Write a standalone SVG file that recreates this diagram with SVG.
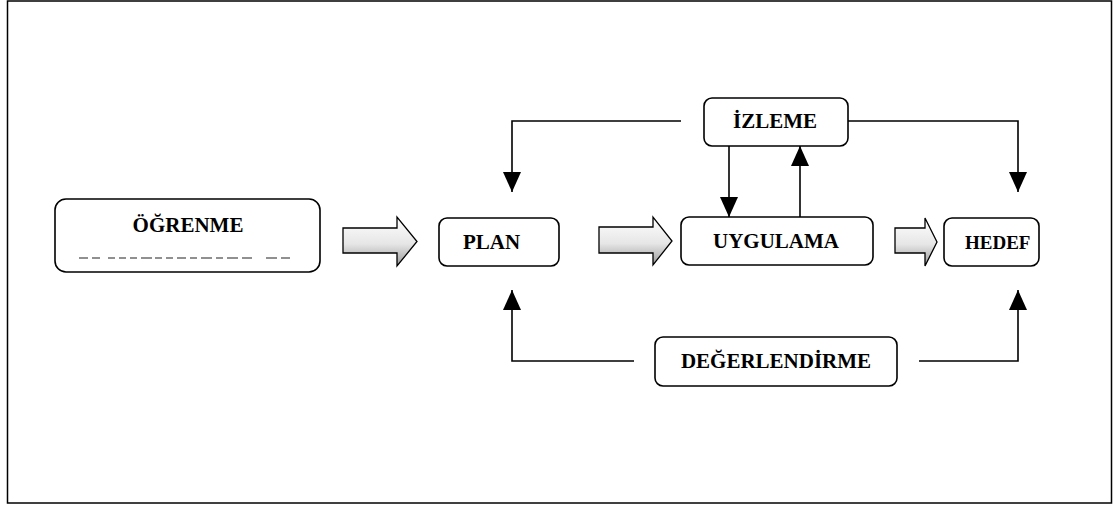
<svg xmlns="http://www.w3.org/2000/svg" width="1114" height="506" viewBox="0 0 1114 506">
<style>
.box{fill:#fff;stroke:#000;stroke-width:1.6}
.lbl{font-family:"Liberation Serif","Times New Roman",serif;font-weight:bold;font-size:21px;fill:#000}
.conn{fill:none;stroke:#000;stroke-width:1.6}
.blk{fill:url(#g);stroke:#000;stroke-width:1.3}
</style>
<defs>
<linearGradient id="g" x1="0" y1="0" x2="0" y2="1">
<stop offset="0" stop-color="#ffffff"/>
<stop offset="0.55" stop-color="#e6e6e6"/>
<stop offset="1" stop-color="#9a9a9a"/>
</linearGradient>
<marker id="ah" markerUnits="userSpaceOnUse" markerWidth="20" markerHeight="18" refX="20" refY="9" orient="auto">
<path d="M0,0 L20,9 L0,18 z" fill="#000"/>
</marker>
</defs>
<rect x="7.5" y="1" width="1104" height="502" fill="#fff" stroke="#000" stroke-width="1.5"/>

<g id="connectors">
<path class="conn" d="M681,121 H512 V192" marker-end="url(#ah)"/>
<path class="conn" d="M848,121 H1018 V192" marker-end="url(#ah)"/>
<path class="conn" d="M729,146 V217" marker-end="url(#ah)"/>
<path class="conn" d="M800,217 V146" marker-end="url(#ah)"/>
<path class="conn" d="M634,361 H512 V290" marker-end="url(#ah)"/>
<path class="conn" d="M919,361 H1018 V290" marker-end="url(#ah)"/>
<polygon class="blk" points="343,228 397,228 397,217 417,241.5 397,266 397,253 343,253"/>
<polygon class="blk" points="599,227 653,227 653,217 672,241 653,265 653,253 599,253"/>
<polygon class="blk" points="895,228 925,228 925,218 937,242 925,266 925,253 895,253"/>
</g>

<g id="ogrenme">
<rect class="box" x="55" y="199" width="265" height="73" rx="11"/>
<text class="lbl" x="188" y="232" text-anchor="middle">ÖĞRENME</text>
<path d="M79,258H88M92,258H100M108,258H115M119,258H126M130,258H137M141,258H152M155,258H162M166,258H173M177,258H186M190,258H197M201,258H212M216,258H223M227,258H238M242,258H252M266,258H277M281,258H290" stroke="#222" stroke-width="1.2"/>
</g>
<g id="plan">
<rect class="box" x="439" y="218" width="120" height="48" rx="8"/>
<text class="lbl" x="463" y="249">PLAN</text>
</g>
<g id="uygulama">
<rect class="box" x="681" y="217" width="192" height="48" rx="8"/>
<text class="lbl" x="776" y="248" text-anchor="middle">UYGULAMA</text>
</g>
<g id="hedef">
<rect class="box" x="944" y="218" width="95" height="48" rx="8"/>
<text class="lbl" x="965" y="249" style="font-size:19px">HEDEF</text>
</g>
<g id="izleme">
<rect class="box" x="704" y="98" width="144" height="48" rx="8"/>
<text class="lbl" x="775" y="128" text-anchor="middle">İZLEME</text>
</g>
<g id="degerlendirme">
<rect class="box" x="655" y="337" width="242" height="49" rx="8"/>
<text class="lbl" x="776" y="368" text-anchor="middle">DEĞERLENDİRME</text>
</g>
</svg>
